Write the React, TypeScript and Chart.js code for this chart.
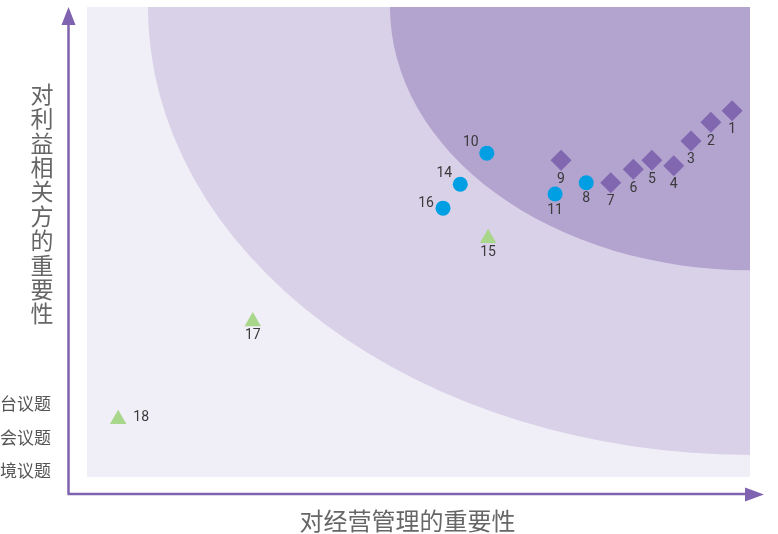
import { useEffect, useRef } from "react";
import { Chart, registerables } from "chart.js";

Chart.register(...registerables);

// ---- data ----
const diamondIds = ["1", "2", "3", "4", "5", "6", "7", "9"];
const diamondX = [9.73, 9.41, 9.11, 8.85, 8.52, 8.24, 7.9, 7.15];
const diamondY = [7.79, 7.55, 7.15, 6.62, 6.74, 6.55, 6.26, 6.74];

const circleIds = ["8", "10", "11", "14", "16"];
const circleX = [7.53, 6.03, 7.06, 5.63, 5.37];
const circleY = [6.26, 6.89, 6.02, 6.23, 5.72];

const triangleIds = ["15", "17", "18"];
const triangleX = [6.05, 2.5, 0.47];
const triangleY = [5.08, 3.31, 1.23];

const legendLabels = ["平台议题", "社会议题", "环境议题"];
const xTitle = "对经营管理的重要性";
const yTitle = "对利益相关方的重要性";

// zones (radii in data units, centred on the top-right corner)
const zoneRx = [9.08, 5.43];
const zoneRy = [9.53, 5.6];

// label placement per id
const labelSide: Record<string, string> = {
  "10": "upleft",
  "14": "upleft",
  "16": "left",
  "18": "right",
};

const CJK = '"Noto Sans CJK SC", "Noto Sans", sans-serif';

const decorPlugin = {
  id: "decor",
  beforeDatasetsDraw(chart: any) {
    const { ctx, chartArea: a, scales } = chart;
    const xs = scales.x;
    const ys = scales.y;
    ctx.save();
    // plot background
    ctx.fillStyle = "#f0eef6";
    ctx.fillRect(a.left, a.top, a.right - a.left, a.bottom - a.top);
    ctx.beginPath();
    ctx.rect(a.left, a.top, a.right - a.left, a.bottom - a.top);
    ctx.clip();
    const cx = xs.getPixelForValue(10);
    const cy = ys.getPixelForValue(10);
    const fills = ["#d9d1e8", "#b2a3cf"];
    for (let i = 0; i < zoneRx.length; i++) {
      const rx = cx - xs.getPixelForValue(10 - zoneRx[i]);
      const ry = ys.getPixelForValue(10 - zoneRy[i]) - cy;
      ctx.beginPath();
      ctx.ellipse(cx, cy, rx, ry, 0, 0, Math.PI * 2);
      ctx.fillStyle = fills[i];
      ctx.fill();
    }
    ctx.restore();
  },
  afterDraw(chart: any) {
    const { ctx } = chart;
    ctx.save();
    // axes arrows
    const axisColor = "#8063b0";
    ctx.strokeStyle = axisColor;
    ctx.fillStyle = axisColor;
    ctx.lineWidth = 2.5;
    ctx.beginPath();
    ctx.moveTo(68.5, 494.5);
    ctx.lineTo(68.5, 22);
    ctx.moveTo(67.5, 494);
    ctx.lineTo(748, 494);
    ctx.stroke();
    ctx.beginPath();
    ctx.moveTo(68.5, 7);
    ctx.lineTo(75.5, 25);
    ctx.lineTo(61.5, 25);
    ctx.closePath();
    ctx.fill();
    ctx.beginPath();
    ctx.moveTo(764, 494.5);
    ctx.lineTo(745, 487.5);
    ctx.lineTo(745, 501.5);
    ctx.closePath();
    ctx.fill();

    // titles
    ctx.fillStyle = "#666666";
    ctx.font = `24px ${CJK}`;
    ctx.textAlign = "center";
    ctx.textBaseline = "middle";
    ctx.fillText(xTitle, 407.5, 521);
    ctx.font = `23px ${CJK}`;
    const chars = Array.from(yTitle);
    chars.forEach((ch, i) => {
      ctx.fillText(ch, 42, 94 + i * 24.4);
    });

    // legend (cut off at the left edge)
    ctx.save();
    ctx.beginPath();
    ctx.rect(0.5, 380, 60, 110);
    ctx.clip();
    ctx.font = `17px ${CJK}`;
    ctx.textAlign = "right";
    ctx.fillStyle = "#555555";
    legendLabels.forEach((t, i) => {
      ctx.fillText(t, 51, 404 + i * 33.5);
    });
    ctx.restore();
    ctx.restore();
  },
  afterDatasetsDraw(chart: any) {
    const { ctx } = chart;
    ctx.save();
    ctx.font = '14px Roboto, "Noto Sans", sans-serif';
    ctx.fillStyle = "#3a3a3a";
    ctx.textBaseline = "middle";
    ctx.textAlign = "center";
    chart.data.datasets.forEach((ds: any, di: number) => {
      const meta = chart.getDatasetMeta(di);
      const isTri = ds.pointStyle === "triangle";
      meta.data.forEach((el: any, i: number) => {
        const id = ds.ids[i];
        const side = labelSide[id] || "below";
        let dx = 0;
        let dy = 19;
        if (side === "upleft") {
          dx = -16;
          dy = -11;
        } else if (side === "left") {
          dx = -17;
          dy = -5;
        } else if (side === "right") {
          dx = 23;
          dy = isTri ? -1.5 : 1;
        } else if (ds.pointStyle === "circle") {
          dy = 16;
        } else if (isTri) {
          dy = 14;
        }
        ctx.fillText(id, el.x + dx, el.y + dy);
      });
    });
    ctx.restore();
  },
};

export default function App() {
  const ref = useRef<HTMLCanvasElement | null>(null);
  useEffect(() => {
    if (!ref.current) return;
    const toPts = (xs: number[], ys: number[]) => xs.map((x, i) => ({ x, y: ys[i] }));
    const chart = new Chart(ref.current, {
      type: "scatter",
      data: {
        datasets: [
          {
            label: legendLabels[0],
            data: toPts(diamondX, diamondY),
            pointStyle: "rectRot",
            pointRadius: 10.5,
            backgroundColor: "#8166b0",
            borderWidth: 0,
            ids: diamondIds,
          } as any,
          {
            label: legendLabels[1],
            data: toPts(circleX, circleY),
            pointStyle: "circle",
            pointRadius: 7.5,
            backgroundColor: "#009fe3",
            borderWidth: 0,
            ids: circleIds,
          } as any,
          {
            label: legendLabels[2],
            data: toPts(triangleX, triangleY),
            pointStyle: "triangle",
            pointRadius: 9.5,
            backgroundColor: "#a8d68b",
            borderWidth: 0,
            ids: triangleIds,
          } as any,
        ],
      },
      options: {
        animation: false,
        responsive: false,
        maintainAspectRatio: false,
        layout: { autoPadding: false, padding: { left: 87, top: 7, right: 28, bottom: 57 } },
        scales: {
          x: { type: "linear", min: 0, max: 10, display: false },
          y: { type: "linear", min: 0, max: 10, display: false },
        },
        plugins: {
          legend: { display: false },
          tooltip: { enabled: false },
        },
      },
      plugins: [decorPlugin],
    });
    return () => chart.destroy();
  }, []);
  return (
    <div
      style={{
        position: "fixed",
        left: 0,
        top: 0,
        width: 778,
        height: 534,
        background: "#ffffff",
      }}
    >
      <canvas ref={ref} width={778} height={534} style={{ width: 778, height: 534, display: "block" }} />
    </div>
  );
}
